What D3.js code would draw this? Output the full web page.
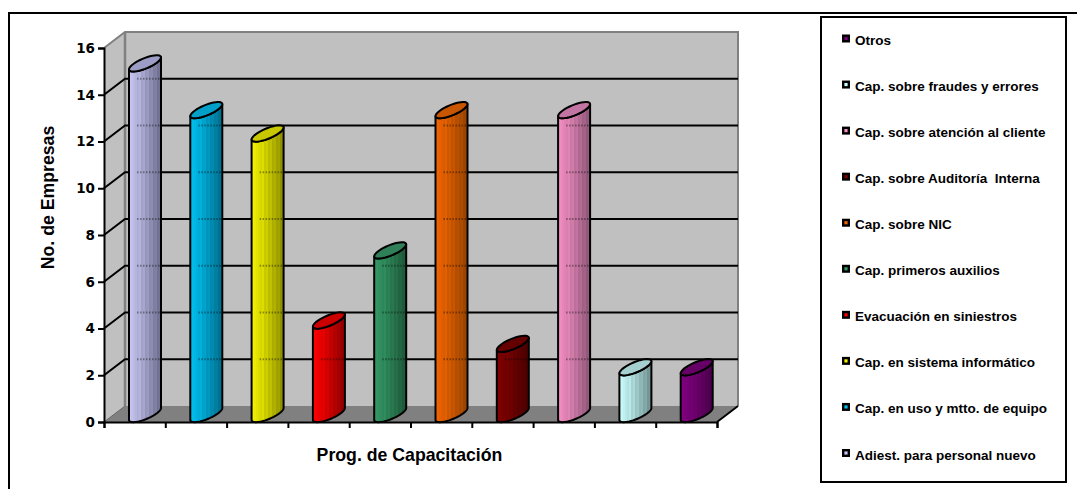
<!DOCTYPE html>
<html>
<head>
<meta charset="utf-8">
<style>
html,body{margin:0;padding:0;background:#fff;overflow:hidden}
svg{display:block}
text{font-family:"Liberation Sans",Arial,sans-serif;font-weight:bold;fill:#000}
.ylab text{font-family:"DejaVu Sans",sans-serif;font-size:13.5px}
</style>
<script src="https://cdn.jsdelivr.net/npm/d3@7/dist/d3.min.js"></script>
</head>
<body>
<svg id="chart" width="1077" height="489"></svg>
<script>
// Training programmes, in axis order
const categories = [
  "Adiest. para personal nuevo",
  "Cap. en uso y mtto. de equipo",
  "Cap. en sistema informático",
  "Evacuación en siniestros",
  "Cap. primeros auxilios",
  "Cap. sobre NIC",
  "Cap. sobre Auditoría  Interna",
  "Cap. sobre atención al cliente",
  "Cap. sobre fraudes y errores",
  "Otros"
];
const companies = [15, 13, 12, 4, 7, 13, 3, 13, 2, 2];
const lightShades = ["#c6c6f2","#00c2f2","#f2f200","#ff0000","#339966","#f26500","#800000","#f58fc4","#ccffff","#800080"];
const darkShades  = ["#6c6c8c","#006c8a","#8a8a00","#8a0000","#1d5638","#964300","#480000","#8c5575","#6f8f8f","#480048"];
const topShades   = ["#9c9cc6","#00a0c8","#c8c800","#cc0000","#2f7f58","#c85600","#660000","#c274a2","#a6cfcf","#660066"];
const yTicks = [0, 2, 4, 6, 8, 10, 12, 14, 16];

const svg = d3.select("#chart");

// Outer chart frame: open towards the right and the bottom of the page
svg.append("path").attr("d", "M1077,13H9V489").attr("fill", "none").attr("stroke", "#000").attr("stroke-width", 2);

const y = d3.scaleLinear().domain([0, 16]).range([422, 48]);
const x = d3.scaleLinear().domain([0, categories.length]).range([104, 717]);
const depthX = 21, depthY = 16;

const x0 = x.range()[0], x1 = x.range()[1], yBase = y(0), yTop = y(16);
const wall = svg.append("g");

// Side wall, back wall and floor of the 3D box
wall.append("path")
  .attr("d", `M${x0},${yTop}L${x0 + depthX},${yTop - depthY}V${yBase - depthY}L${x0},${yBase}Z`)
  .attr("fill", "#c0c0c0");
wall.append("rect")
  .attr("x", x0 + depthX).attr("y", yTop - depthY)
  .attr("width", x1 - x0).attr("height", yBase - yTop)
  .attr("fill", "#c0c0c0");
wall.append("path")
  .attr("d", `M${x0},${yBase}L${x0 + depthX},${yBase - depthY}H${x1 + depthX}L${x1},${yBase}Z`)
  .attr("fill", "#808080");

// Grey edges of the box
wall.append("path")
  .attr("d", `M${x0},${yTop}L${x0 + depthX},${yTop - depthY}H${x1 + depthX}V${yBase - depthY}`)
  .attr("fill", "none").attr("stroke", "#808080").attr("stroke-width", 2);
wall.append("path")
  .attr("d", `M${x0 + depthX},${yTop - depthY}V${yBase - depthY}`)
  .attr("fill", "none").attr("stroke", "#808080").attr("stroke-width", 2.5);
wall.append("path")
  .attr("d", `M${x0},${yBase}L${x0 + depthX},${yBase - depthY}`)
  .attr("fill", "none").attr("stroke", "#666").attr("stroke-width", 1);

// Gridlines run along the side wall and across the back wall
const gridValues = yTicks.filter(v => v > 0 && v < 16);
wall.selectAll("path.grid").data(gridValues).join("path")
  .attr("class", "grid")
  .attr("d", v => `M${x0},${y(v)}L${x0 + depthX},${y(v) - depthY}H${x1 + depthX}`)
  .attr("fill", "none").attr("stroke", "#000").attr("stroke-width", 2);

// Right edge of the floor
wall.append("path")
  .attr("d", `M${x1},${yBase}L${x1 + depthX},${yBase - depthY}`)
  .attr("stroke", "#000").attr("stroke-width", 2);

// Banded horizontal gradients give the cylinders their ribbed shading
const defs = svg.append("defs");
categories.forEach((c, i) => {
  const g = defs.append("linearGradient").attr("id", "shade" + i);
  const bands = 16;
  const mix = d3.interpolateRgb(lightShades[i], darkShades[i]);
  d3.range(bands).forEach(k => {
    const base = d3.color(mix(k / (bands - 1)));
    const col = (k % 2 && k > 3) ? base.brighter(0.18) : base;
    g.append("stop").attr("offset", k / bands).attr("stop-color", col);
    g.append("stop").attr("offset", (k + 1) / bands).attr("stop-color", col);
  });
});

// Cylinders are sheared ellipses extruded upwards from the floor
const radiusX = 16, slant = 6, radiusY = 5.5, lift = 8, centreShift = 41;
const ring = (cx, cy, a0, a1) => d3.range(0, 41).map(k => {
  const t = a0 + (a1 - a0) * k / 40;
  return [cx + radiusX * Math.cos(t), cy - slant * Math.cos(t) + radiusY * Math.sin(t)];
});
const line = d3.line();

const bars = svg.selectAll("g.bar").data(companies).join("g").attr("class", "bar");
bars.each(function (v, i) {
  const g = d3.select(this);
  const cx = x(i) + centreShift;
  const topY = y(v) - lift, botY = y(0) - lift;
  const side = [...ring(cx, topY, Math.PI, 0), ...ring(cx, botY, 0, Math.PI)];
  g.append("path")
    .attr("d", line(side) + "Z")
    .attr("fill", `url(#shade${i})`);

  // Back-wall gridlines show faintly through the cylinder
  gridValues
    .filter(gv => y(gv) - depthY > y(v) + 1 && y(gv) - depthY < yBase - 8)
    .forEach(gv => {
      g.append("line")
        .attr("x1", cx - 8).attr("x2", cx + 15)
        .attr("y1", y(gv) - depthY).attr("y2", y(gv) - depthY)
        .attr("stroke", "#000").attr("stroke-opacity", 0.38)
        .attr("stroke-width", 2).attr("stroke-dasharray", "1.5 1.5");
    });

  g.append("path")
    .attr("d", line(side) + "Z")
    .attr("fill", "none").attr("stroke", "#000").attr("stroke-width", 2).attr("stroke-linejoin", "round");
  g.append("path")
    .attr("d", line(ring(cx, topY, 0, 2 * Math.PI)) + "Z")
    .attr("fill", topShades[i]).attr("stroke", "#000").attr("stroke-width", 2);
});

// Axes
const yAxis = svg.append("g").attr("class", "ylab").attr("transform", `translate(${x0},0)`)
  .call(d3.axisLeft(y).tickValues(yTicks).tickSize(6).tickPadding(3));
const xAxis = svg.append("g").attr("transform", `translate(0,${yBase})`)
  .call(d3.axisBottom(x).ticks(categories.length).tickSize(6).tickFormat(""));
[yAxis, xAxis].forEach(a => {
  a.selectAll("path.domain").attr("stroke", "#000").attr("stroke-width", 2);
  a.selectAll(".tick line").attr("stroke", "#000").attr("stroke-width", 2);
});

// Axis titles
svg.append("text").attr("transform", "translate(54,197.5) rotate(-90)")
  .attr("text-anchor", "middle")
  .attr("font-size", 17.7).text("No. de Empresas");
svg.append("text").attr("x", 409.5).attr("y", 461)
  .attr("text-anchor", "middle").attr("font-size", 17.7).text("Prog. de Capacitación");

// Legend lists the programmes from last to first
svg.append("rect").attr("x", 821).attr("y", 17).attr("width", 245).attr("height", 465)
  .attr("fill", "#fff").attr("stroke", "#000").attr("stroke-width", 2);
const legendY = d3.scaleLinear().domain([0, 9]).range([40.5, 455]);
const legendOrder = d3.range(categories.length).reverse();
const items = svg.selectAll("g.item").data(legendOrder).join("g")
  .attr("class", "item")
  .attr("transform", (d, k) => `translate(0,${legendY(k)})`);
items.append("rect").attr("x", 843.2).attr("y", -4.8).attr("width", 5.6).attr("height", 5.6)
  .attr("fill", d => lightShades[d]).attr("stroke", "#000").attr("stroke-width", 2.4);
items.append("text").attr("x", 855).attr("y", 4.5)
  .attr("font-size", 13.5).style("white-space", "pre")
  .text(d => categories[d]);
</script>
</body>
</html>
